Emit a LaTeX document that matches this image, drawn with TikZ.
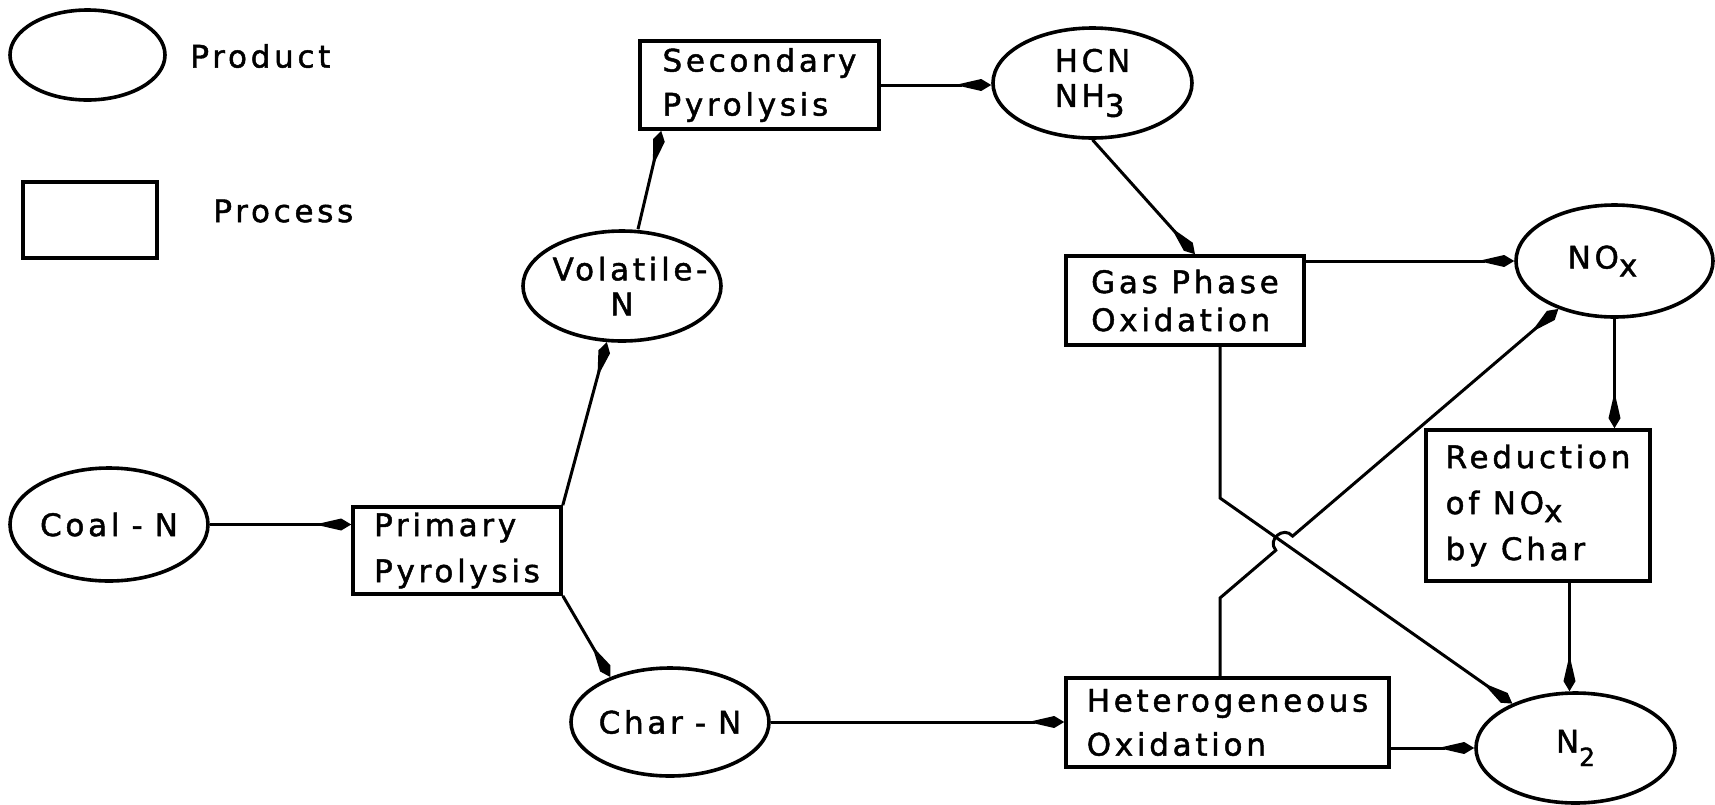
\documentclass[tikz,border=0pt]{standalone}
\usepackage{fontspec}
\setmainfont{DejaVu Sans}[LetterSpace=12, FakeBold=1.5]
\usetikzlibrary{shapes.geometric,arrows.meta}
\begin{document}
\begin{tikzpicture}[x=0.5pt,y=-0.5pt,
  every node/.style={font=\fontsize{15.5}{22}\selectfont, inner sep=0pt},
  box/.style={draw, line width=1.8pt, rectangle, align=left},
  prod/.style={draw, line width=1.8pt, ellipse, minimum width=99pt, minimum height=55pt},
  ptext/.style={align=center, font=\fontsize{15.5}{17.5}\selectfont},
  conn/.style={line width=1.5pt, -{Kite[length=18pt,width=6pt,inset=13pt]}}]
\useasboundingbox (0,0) rectangle (1715,804);
% legend
\node[prod, minimum width=77.5pt, minimum height=45pt] (legE) at (87.5,55) {};
\node[box, minimum width=67pt, minimum height=38pt] (legR) at (90,220) {};
\node[anchor=west] (legEt) at (190,56) {Product};
\node[anchor=west] (legRt) at (213,211) {Process};
% nodes
\node[prod] (coal) at (109,524.5) [minimum height=56.5pt, label={[ptext]center:{Coal\hspace{6pt}-\hspace{6pt}N}}] {};
\node[box, minimum width=104pt, minimum height=43.5pt, font=\fontsize{15.5}{23}\selectfont] (prim) at (457,550.5) {Primary\\Pyrolysis};
\node[prod, label={[ptext]center:{\hspace*{8pt}Volatile-\\N}}] (vol) at (622,286) {};
\node[prod, minimum height=54pt, label={[ptext]center:{Char\hspace{6pt}-\hspace{6pt}N}}] (char) at (670,722) {};
\node[box, minimum width=119.5pt, minimum height=44pt] (sec) at (759.5,85) {Secondary\\Pyrolysis};
\node[prod, minimum width=99.5pt, label={[ptext, align=left]center:{HCN\\NH\raisebox{-5pt}{3}}}] (hcn) at (1092.5,83) {};
\node[box, minimum width=119pt, minimum height=44.5pt, font=\fontsize{15.5}{19}\selectfont] (gas) at (1185,300.5) {Gas Phase\\Oxidation};
\node[prod, minimum width=98.5pt, minimum height=56pt, label={[ptext]center:{NO\raisebox{-4pt}{x}\hspace*{12pt}}}] (nox) at (1614.5,261) {};
\node[box, minimum width=112pt, minimum height=75.5pt, font=\fontsize{15.5}{23}\selectfont] (red) at (1538,505.5) {Reduction\\of NO\raisebox{-4pt}{x}\\by Char};
\node[box, minimum width=161.5pt, minimum height=44.5pt] (het) at (1227.5,722.5) {Heterogeneous\\Oxidation};
\node[prod, minimum width=99.5pt, label={[ptext]center:{N\raisebox{-6.75pt}{\fontsize{12.5}{12.5}\selectfont 2}}}] (n2) at (1575.5,748) {};
% bend and hop coordinates
\coordinate (b1) at (1220,498);
\coordinate (b2) at (1220,598);
\coordinate (hA) at (1275.8,550.3);
\coordinate (hB) at (1292.6,536.1);
\coordinate (hcA) at (1266.7,539.7);
\coordinate (hcB) at (1283.5,525.5);
\coordinate (rn) at ([xshift=-3pt]n2.north);
% connectors
\draw[conn] (coal.east) -- (coal.east -| prim.west);
\draw[conn] (prim.north east) -- (vol);
\draw[conn] (prim.south east) -- (char.143);
\draw[conn] ([xshift=8pt]vol.north) -- ([xshift=11.5pt]sec.south west);
\draw[conn] (sec.east) -- (sec.east -| hcn.west);
\draw[conn] (hcn.south) -- ([xshift=5pt]gas.north);
\draw[conn] (nox.west -| gas.east) -- (nox.west);
\draw[conn] (nox.south) -- (nox.south |- red.north);
\draw[conn] (rn |- red.south) -- (rn);
\draw[conn] (n2.west -| het.east) -- (n2.west);
\draw[conn] (char.east) -- (char.east -| het.west);
\draw[conn] (gas.south -| b1) -- (b1) -- (n2);
\draw[conn] (het.north -| b2) -- (b2) -- (hA) .. controls (hcA) and (hcB) .. (hB) -- (nox);
\end{tikzpicture}
\end{document}
